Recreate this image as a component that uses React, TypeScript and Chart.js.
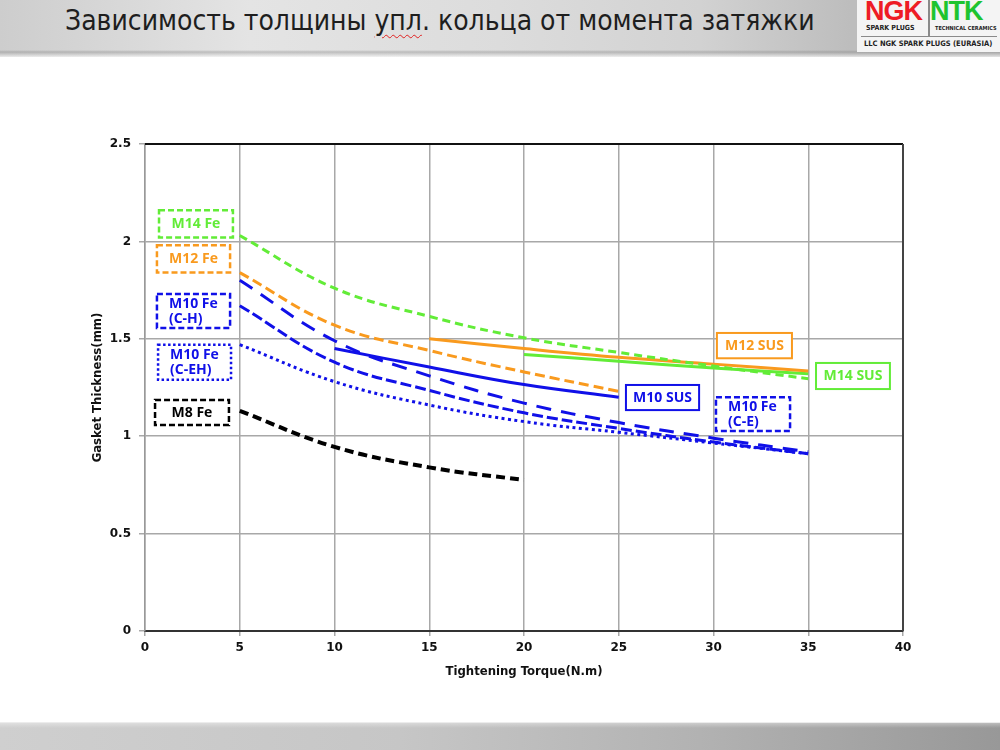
import React, { useEffect, useRef } from "react";
import { Chart, registerables } from "chart.js";

Chart.register(...registerables);

// ---------- data ----------
const torqueFe = [5, 10, 15, 20, 25, 30, 35];
const m14Fe = [2.03, 1.76, 1.615, 1.505, 1.43, 1.36, 1.295];

const torqueM12Fe = [5, 10, 15, 20, 25];
const m12Fe = [1.84, 1.57, 1.44, 1.33, 1.23];

const m10FeCH = [1.8, 1.49, 1.31, 1.17, 1.07, 0.99, 0.92];
const m10FeCE = [1.67, 1.38, 1.235, 1.12, 1.04, 0.97, 0.91];
const m10FeCEH = [1.47, 1.28, 1.16, 1.075, 1.02, 0.965, 0.91];

const torqueM8Fe = [5, 10, 15, 20];
const m8Fe = [1.13, 0.945, 0.84, 0.775];

const torqueM10Sus = [10, 15, 20, 25];
const m10Sus = [1.45, 1.355, 1.265, 1.2];

const torqueM12Sus = [15, 20, 25, 30, 35];
const m12Sus = [1.5, 1.45, 1.405, 1.37, 1.335];

const torqueM14Sus = [20, 25, 30, 35];
const m14Sus = [1.42, 1.385, 1.35, 1.32];

const xTickMin = 0;
const xTickMax = 40;
const xTickStep = 5;
const yTickMin = 0;
const yTickMax = 2.5;
const yTickStep = 0.5;

const GREEN = "#62ec37";
const ORANGE = "#f99a1e";
const BLUE = "#1010e8";
const BLACK = "#000000";

// label boxes (in data coordinates)
const labelBoxes = [
  { lines: ["M14 Fe"], color: GREEN, dash: [6, 3], x1: 0.74, x2: 4.64, y1: 2.02, y2: 2.16, left: false },
  { lines: ["M12 Fe"], color: ORANGE, dash: [6, 3], x1: 0.63, x2: 4.49, y1: 1.84, y2: 1.98, left: false },
  { lines: ["M10 Fe", "(C-H)"], color: BLUE, dash: [6, 3], x1: 0.63, x2: 4.49, y1: 1.555, y2: 1.73, left: true },
  { lines: ["M10 Fe", "(C-EH)"], color: BLUE, dash: [2.5, 2.5], x1: 0.69, x2: 4.54, y1: 1.29, y2: 1.47, left: true },
  { lines: ["M8 Fe"], color: BLACK, dash: [6, 3], x1: 0.53, x2: 4.43, y1: 1.057, y2: 1.186, left: false },
  { lines: ["M12 SUS"], color: ORANGE, dash: [], x1: 30.18, x2: 34.14, y1: 1.4, y2: 1.53, left: false },
  { lines: ["M14 SUS"], color: GREEN, dash: [], x1: 35.41, x2: 39.31, y1: 1.242, y2: 1.376, left: false },
  { lines: ["M10 SUS"], color: BLUE, dash: [], x1: 25.38, x2: 29.24, y1: 1.134, y2: 1.263, left: false },
  { lines: ["M10 Fe", "(C-E)"], color: BLUE, dash: [6, 3], x1: 30.13, x2: 34.04, y1: 1.027, y2: 1.2, left: true },
];

const pts = (xs: number[], ys: number[]) => xs.map((x, i) => ({ x, y: ys[i] }));

const boxPlugin = {
  id: "boxPlugin",
  afterDatasetsDraw(chart: any) {
    const { ctx, chartArea, scales } = chart;
    const xs = scales.x;
    const ys = scales.y;
    ctx.save();
    ctx.strokeStyle = "#111";
    ctx.lineWidth = 2;
    ctx.beginPath();
    ctx.moveTo(chartArea.left, chartArea.top);
    ctx.lineTo(chartArea.right, chartArea.top);
    ctx.stroke();
    ctx.strokeStyle = "#444";
    ctx.beginPath();
    ctx.moveTo(chartArea.right, chartArea.top);
    ctx.lineTo(chartArea.right, chartArea.bottom);
    ctx.stroke();

    labelBoxes.forEach((b) => {
      const l = xs.getPixelForValue(b.x1);
      const r = xs.getPixelForValue(b.x2);
      const t = ys.getPixelForValue(b.y2);
      const bt = ys.getPixelForValue(b.y1);
      ctx.fillStyle = "#ffffff";
      ctx.fillRect(l, t, r - l, bt - t);
      ctx.strokeStyle = b.color;
      ctx.lineWidth = b.dash.length ? 2.5 : 2;
      ctx.setLineDash(b.dash);
      ctx.strokeRect(l, t, r - l, bt - t);
      ctx.setLineDash([]);
      ctx.fillStyle = b.color;
      ctx.font = "bold 14px 'Open Sans'";
      ctx.textBaseline = "middle";
      const lh = 15;
      const cy = (t + bt) / 2;
      const n = b.lines.length;
      b.lines.forEach((s, i) => {
        const y = cy + (i - (n - 1) / 2) * lh;
        if (b.left) {
          ctx.textAlign = "left";
          ctx.fillText(s, l + 12, y);
        } else {
          ctx.textAlign = "center";
          ctx.fillText(s, (l + r) / 2, y);
        }
      });
    });
    ctx.restore();
  },
};

export default function App() {
  const ref = useRef<HTMLCanvasElement | null>(null);

  useEffect(() => {
    document.body.style.margin = "0";
    const canvas = ref.current!;
    const common = {
      pointRadius: 0,
      pointHoverRadius: 0,
      fill: false,
      tension: 0.4,
      borderCapStyle: "butt" as const,
    };
    const chart = new Chart(canvas, {
      type: "line",
      data: {
        datasets: [
          { ...common, label: "M14 Fe", data: pts(torqueFe, m14Fe), borderColor: GREEN, borderWidth: 3, borderDash: [8, 5] },
          { ...common, label: "M12 Fe", data: pts(torqueM12Fe, m12Fe), borderColor: ORANGE, borderWidth: 3, borderDash: [10, 5] },
          { ...common, label: "M10 Fe (C-H)", data: pts(torqueFe, m10FeCH), borderColor: BLUE, borderWidth: 3, borderDash: [15, 10] },
          { ...common, label: "M10 Fe (C-E)", data: pts(torqueFe, m10FeCE), borderColor: BLUE, borderWidth: 3, borderDash: [11, 4] },
          { ...common, label: "M10 Fe (C-EH)", data: pts(torqueFe, m10FeCEH), borderColor: BLUE, borderWidth: 3, borderDash: [3, 3.5] },
          { ...common, label: "M8 Fe", data: pts(torqueM8Fe, m8Fe), borderColor: BLACK, borderWidth: 4, borderDash: [9, 5] },
          { ...common, label: "M10 SUS", data: pts(torqueM10Sus, m10Sus), borderColor: BLUE, borderWidth: 3 },
          { ...common, label: "M12 SUS", data: pts(torqueM12Sus, m12Sus), borderColor: ORANGE, borderWidth: 3 },
          { ...common, label: "M14 SUS", data: pts(torqueM14Sus, m14Sus), borderColor: GREEN, borderWidth: 3 },
        ],
      },
      options: {
        animation: false,
        responsive: false,
        devicePixelRatio: 1,
        events: [],
        layout: { padding: { left: 80, right: 97, top: 144, bottom: 69 } },
        plugins: { legend: { display: false }, tooltip: { enabled: false } },
        scales: {
          x: {
            type: "linear",
            min: xTickMin,
            max: xTickMax,
            afterFit: (s: any) => {
              s.height = 50;
            },
            ticks: {
              stepSize: xTickStep,
              padding: 5,
              color: "#111",
              font: { family: "'DejaVu Sans'", size: 12, weight: "bold" },
              callback: (v: any) => String(Number(v)),
            },
            grid: { color: "#a8a8a8", lineWidth: 1.5, tickLength: 5 },
            border: { color: "#333", width: 2 },
            title: {
              display: true,
              text: "Tightening Torque(N.m)",
              color: "#111",
              font: { family: "'DejaVu Sans Condensed'", size: 13, weight: "bold" },
              padding: { top: 2, bottom: 2 },
            },
          },
          y: {
            type: "linear",
            min: yTickMin,
            max: yTickMax,
            afterFit: (s: any) => {
              s.width = 65;
            },
            ticks: {
              stepSize: yTickStep,
              padding: 8,
              color: "#111",
              font: { family: "'DejaVu Sans'", size: 12, weight: "bold" },
              callback: (v: any) => String(Number(v)),
            },
            grid: { color: "#a8a8a8", lineWidth: 1.5, tickLength: 6 },
            border: { color: "#999", width: 1.5 },
            title: {
              display: true,
              text: "Gasket Thickness(mm)",
              color: "#111",
              font: { family: "'DejaVu Sans Condensed'", size: 13, weight: "bold" },
              padding: { top: 10, bottom: 2 },
            },
          },
        },
      },
      plugins: [boxPlugin],
    });
    return () => chart.destroy();
  }, []);

  return (
    <div style={{ position: "fixed", left: 0, top: 0, width: 1000, height: 750, background: "#fff", overflow: "hidden" }}>
      <canvas ref={ref} width={1000} height={750} style={{ position: "absolute", left: 0, top: 0, width: 1000, height: 750 }} />
      <div
        style={{
          position: "absolute",
          left: 0,
          top: 0,
          width: 1000,
          height: 57,
          background:
            "linear-gradient(to bottom, rgba(255,255,255,0) 0px, rgba(255,255,255,0) 50px, rgba(120,120,120,0.35) 52px, rgba(255,255,255,0.6) 57px), linear-gradient(to right, #cdcdcd 0%, #e4e4e4 25%, #dcdcdc 50%, #d2d2d2 70%, #bdbdbd 85%)",
        }}
      />
      <div
        style={{
          position: "absolute",
          left: 65,
          top: 4,
          fontFamily: "'DejaVu Sans Condensed', 'DejaVu Sans'",
          fontSize: 28,
          color: "#1e1e1e",
          whiteSpace: "nowrap",
        }}
      >
        Зависимость толщины{" "}
        <span style={{ textDecoration: "underline wavy #e02020", textDecorationThickness: 1, textUnderlineOffset: 4 }}>упл</span>.
        кольца от момента затяжки
      </div>
      <div style={{ position: "absolute", left: 857, top: 0, width: 143, height: 52, background: "#f4f4f4" }}>
        <div style={{ position: "absolute", left: 8, top: -4, fontFamily: "'Liberation Sans'", fontWeight: "bold", fontSize: 27, color: "#ee1c25", letterSpacing: -1 }}>NGK</div>
        <div style={{ position: "absolute", left: 73, top: -4, fontFamily: "'Liberation Sans'", fontWeight: "bold", fontSize: 27, color: "#1ec42f", letterSpacing: -1 }}>NTK</div>
        <div style={{ position: "absolute", left: 71, top: 0, width: 1.5, height: 37, background: "#8a8a8a" }} />
        <div style={{ position: "absolute", left: 4, top: 36, width: 136, height: 1, background: "#8a8a8a" }} />
        <div style={{ position: "absolute", left: 9, top: 24, fontFamily: "'DejaVu Sans Condensed'", fontWeight: "bold", fontSize: 7, color: "#222", whiteSpace: "nowrap" }}>SPARK PLUGS</div>
        <div style={{ position: "absolute", left: 78, top: 25, fontFamily: "'DejaVu Sans Condensed'", fontWeight: "bold", fontSize: 5.5, color: "#222", whiteSpace: "nowrap" }}>TECHNICAL CERAMICS</div>
        <div style={{ position: "absolute", left: 7, top: 39, fontFamily: "'DejaVu Sans Condensed'", fontWeight: "bold", fontSize: 7.5, color: "#222", whiteSpace: "nowrap" }}>LLC NGK SPARK PLUGS (EURASIA)</div>
      </div>
      <div
        style={{
          position: "absolute",
          left: 0,
          top: 722,
          width: 1000,
          height: 28,
          borderTop: "1px solid #ececec",
          background:
            "linear-gradient(to bottom, rgba(255,255,255,0.35) 0px, rgba(255,255,255,0) 5px), linear-gradient(to right, #cfcfcf 0%, #c6c6c6 40%, #b2b2b2 70%, #989898 100%)",
        }}
      />
    </div>
  );
}
